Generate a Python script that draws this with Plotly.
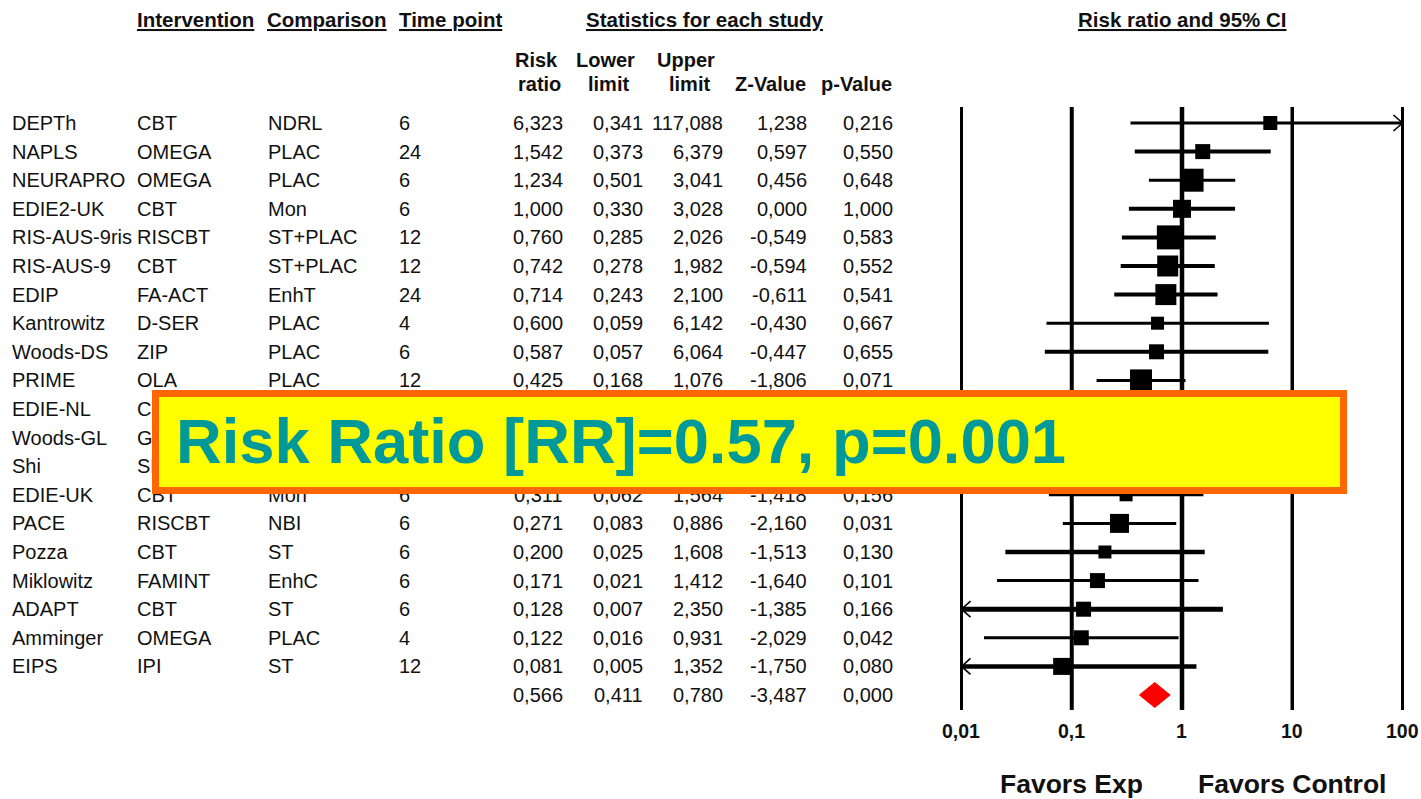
import math
import plotly.graph_objects as go

W, H = 1421, 799

# ---------------- data ----------------
studies = ["DEPTh", "NAPLS", "NEURAPRO", "EDIE2-UK", "RIS-AUS-9ris", "RIS-AUS-9", "EDIP",
           "Kantrowitz", "Woods-DS", "PRIME", "EDIE-NL", "Woods-GL", "Shi", "EDIE-UK", "PACE",
           "Pozza", "Miklowitz", "ADAPT", "Amminger", "EIPS"]
interventions = ["CBT", "OMEGA", "OMEGA", "CBT", "RISCBT", "CBT", "FA-ACT", "D-SER", "ZIP", "OLA",
                 "CBT", "GLY", "SMP", "CBT", "RISCBT", "CBT", "FAMINT", "CBT", "OMEGA", "IPI"]
comparisons = ["NDRL", "PLAC", "PLAC", "Mon", "ST+PLAC", "ST+PLAC", "EnhT", "PLAC", "PLAC", "PLAC",
               "TAU", "PLAC", "ST", "Mon", "NBI", "ST", "EnhC", "ST", "PLAC", "ST"]
time_points = [6, 24, 6, 6, 12, 12, 24, 4, 6, 12, 18, 12, 12, 6, 6, 6, 6, 6, 4, 12]
risk_ratio = [6.323, 1.542, 1.234, 1.000, 0.760, 0.742, 0.714, 0.600, 0.587, 0.425,
              0.408, 0.371, 0.333, 0.311, 0.271, 0.200, 0.171, 0.128, 0.122, 0.081]
lower_limit = [0.341, 0.373, 0.501, 0.330, 0.285, 0.278, 0.243, 0.059, 0.057, 0.168,
               0.164, 0.044, 0.036, 0.062, 0.083, 0.025, 0.021, 0.007, 0.016, 0.005]
upper_limit = [117.088, 6.379, 3.041, 3.028, 2.026, 1.982, 2.100, 6.142, 6.064, 1.076,
               1.015, 3.123, 3.055, 1.564, 0.886, 1.608, 1.412, 2.350, 0.931, 1.352]
z_value = [1.238, 0.597, 0.456, 0.000, -0.549, -0.594, -0.611, -0.430, -0.447, -1.806,
           -1.929, -0.914, -0.974, -1.418, -2.160, -1.513, -1.640, -1.385, -2.029, -1.750]
p_value = [0.216, 0.550, 0.648, 1.000, 0.583, 0.552, 0.541, 0.667, 0.655, 0.071,
           0.054, 0.361, 0.330, 0.156, 0.031, 0.130, 0.101, 0.166, 0.042, 0.080]

summary_rr = 0.566
summary_lower = 0.411
summary_upper = 0.780
summary_z = -3.487
summary_p = 0.000

axis_ticks = [0.01, 0.1, 1, 10, 100]
tick_labels = ["0,01", "0,1", "1", "10", "100"]
overlay_text = "Risk Ratio [RR]=0.57, p=0.001"

# ---------------- styles ----------------
square_sizes = [14, 15, 23, 18, 24, 21, 21, 13, 15, 22, 16, 13, 13, 13, 19, 13, 15, 15, 15, 17]
ci_widths = [3, 4, 3, 4, 4, 4, 4, 3, 4, 3, 3, 3, 3, 3, 3, 4.5, 3, 5, 3, 4.5]
grid_widths = [3, 4, 4.5, 3.5, 3]
FONT = "Liberation Sans, Arial, sans-serif"
TXT = "#111111"

# ---------------- geometry ----------------
ROW0_PX, ROW_STEP = 123.0, 28.6          # pixel centre of first row, spacing
PX_DEC, ONE_PX = 110.25, 1182.0          # pixels per decade, pixel of RR=1
r0, r1 = -2.25, 2.15
dom = [(ONE_PX + r0 * PX_DEC) / W, (ONE_PX + r1 * PX_DEC) / W]
y_top = -ROW0_PX / ROW_STEP
y_bot = (H - ROW0_PX) / ROW_STEP
XMIN, XMAX = axis_ticks[0], axis_ticks[-1]


def py(px):
    return 1 - px / H


def rowy(px):
    return (px - ROW0_PX) / ROW_STEP


def fmt(v):
    return f"{v:.3f}".replace(".", ",")


fig = go.Figure()

# CI lines
n = len(studies)
for i in range(n):
    fig.add_trace(go.Scatter(
        x=[max(lower_limit[i], XMIN), min(upper_limit[i], XMAX)], y=[i, i],
        mode="lines", line=dict(color="black", width=ci_widths[i]), hoverinfo="skip"))

# arrow chevrons for truncated intervals
back = 10 ** (9 / PX_DEC)
ah = 8 / ROW_STEP
cx, cy = [], []
for i in range(n):
    if upper_limit[i] > XMAX:
        cx += [XMAX / back, XMAX, XMAX / back, None]
        cy += [i - ah, i, i + ah, None]
    if lower_limit[i] < XMIN:
        cx += [XMIN * back, XMIN, XMIN * back, None]
        cy += [i - ah, i, i + ah, None]
fig.add_trace(go.Scatter(x=cx, y=cy, mode="lines", line=dict(color="black", width=1.6),
                         hoverinfo="skip"))

# squares
fig.add_trace(go.Scatter(x=risk_ratio, y=list(range(n)), mode="markers",
                         marker=dict(symbol="square", size=square_sizes, color="black",
                                     opacity=1, line=dict(width=0))))

# summary diamond
dh = 12.5 / ROW_STEP
fig.add_trace(go.Scatter(
    x=[summary_lower, summary_rr, summary_upper, summary_rr, summary_lower],
    y=[n, n - dh, n, n + dh, n], mode="lines", fill="toself",
    fillcolor="#FF0000", line=dict(color="#FF0000", width=1), hoverinfo="skip"))

shapes = []
for t, w in zip(axis_ticks, grid_widths):
    shapes.append(dict(type="line", xref="x", yref="y", x0=t, x1=t,
                       y0=rowy(107), y1=rowy(710), line=dict(color="black", width=w),
                       layer="below"))

ann = []


def A(text, x, y, xanchor="left", size=20, bold=False, xref="paper", yref="y", under=False,
      color=TXT):
    f = dict(family=FONT, size=size, color=color)
    if under:
        f["lineposition"] = "under"
    if xref == "x":  # annotations on a log axis take log10 positions
        x = math.log10(x)
    ann.append(dict(text=f"<b>{text}</b>" if bold else text, x=x, y=y, xref=xref, yref=yref,
                    xanchor=xanchor, yanchor="middle", showarrow=False, font=f, borderpad=0))


# headers
A("Intervention", 136 / W, py(20), size=20.5, bold=True, yref="paper", under=True)
A("Comparison", 266 / W, py(20), size=20.5, bold=True, yref="paper", under=True)
A("Time point", 398 / W, py(20), size=20.5, bold=True, yref="paper", under=True)
A("Statistics for each study", 705 / W, py(20), xanchor="center", size=20.5, bold=True,
  yref="paper", under=True)
A("Risk ratio and 95% CI", 1, py(20), xanchor="center", size=20.5, bold=True, xref="x",
  yref="paper", under=True)
for txt, cxp, ypx in [("Risk", 536, 60), ("ratio", 539.5, 84), ("Lower", 605.5, 60),
                      ("limit", 608.5, 84), ("Upper", 685.5, 60), ("limit", 689, 84),
                      ("Z-Value", 770, 84), ("p-Value", 856, 84)]:
    A(txt, cxp / W, py(ypx), xanchor="center", bold=True, yref="paper")

# table rows
for i in range(n):
    A(studies[i], 11 / W, i)
    A(interventions[i], 136 / W, i)
    A(comparisons[i], 267 / W, i)
    A(str(time_points[i]), 398 / W, i)
    A(fmt(risk_ratio[i]), 564 / W, i, xanchor="right")
    A(fmt(lower_limit[i]), 644 / W, i, xanchor="right")
    A(fmt(upper_limit[i]), 724 / W, i, xanchor="right")
    A(fmt(z_value[i]), 808 / W, i, xanchor="right")
    A(fmt(p_value[i]), 894 / W, i, xanchor="right")
for v, xr in [(summary_rr, 564), (summary_lower, 644), (summary_upper, 724), (summary_z, 808),
              (summary_p, 894)]:
    A(fmt(v), xr / W, n, xanchor="right")

# axis tick labels
for t, lab in zip(axis_ticks, tick_labels):
    A(lab, t, rowy(731), xanchor="center", size=19.5, bold=True, xref="x")
A("Favors Exp", 0.1, rowy(784), xanchor="center", size=26.5, bold=True, xref="x")
A("Favors Control", 10, rowy(784), xanchor="center", size=26.5, bold=True, xref="x")

# overlay box (drawn last so it covers the rows below it)
ann.append(dict(text=" ", x=152 / W, y=py(390), xref="paper", yref="paper", xanchor="left",
                yanchor="top", showarrow=False, width=1181, height=90, borderwidth=7,
                borderpad=0, bgcolor="#FFFF00", bordercolor="#FF6600",
                font=dict(family=FONT, size=10)))
ann.append(dict(text=f"<b>{overlay_text}</b>", x=175 / W, y=py(441), xref="paper",
                yref="paper", xanchor="left", yanchor="middle", showarrow=False, borderpad=0,
                font=dict(family=FONT, size=63.3, color="#009999")))

fig.update_layout(
    width=W, height=H, margin=dict(l=0, r=0, t=0, b=0), showlegend=False,
    paper_bgcolor="white", plot_bgcolor="white",
    xaxis=dict(type="log", range=[r0, r1], domain=dom, visible=False, fixedrange=True),
    yaxis=dict(range=[y_bot, y_top], visible=False, fixedrange=True),
    shapes=shapes, annotations=ann,
)

fig.write_html("out.html", config={"displayModeBar": False},
               post_script="document.body.style.margin='0';"
                           "document.body.style.overflow='hidden';")
